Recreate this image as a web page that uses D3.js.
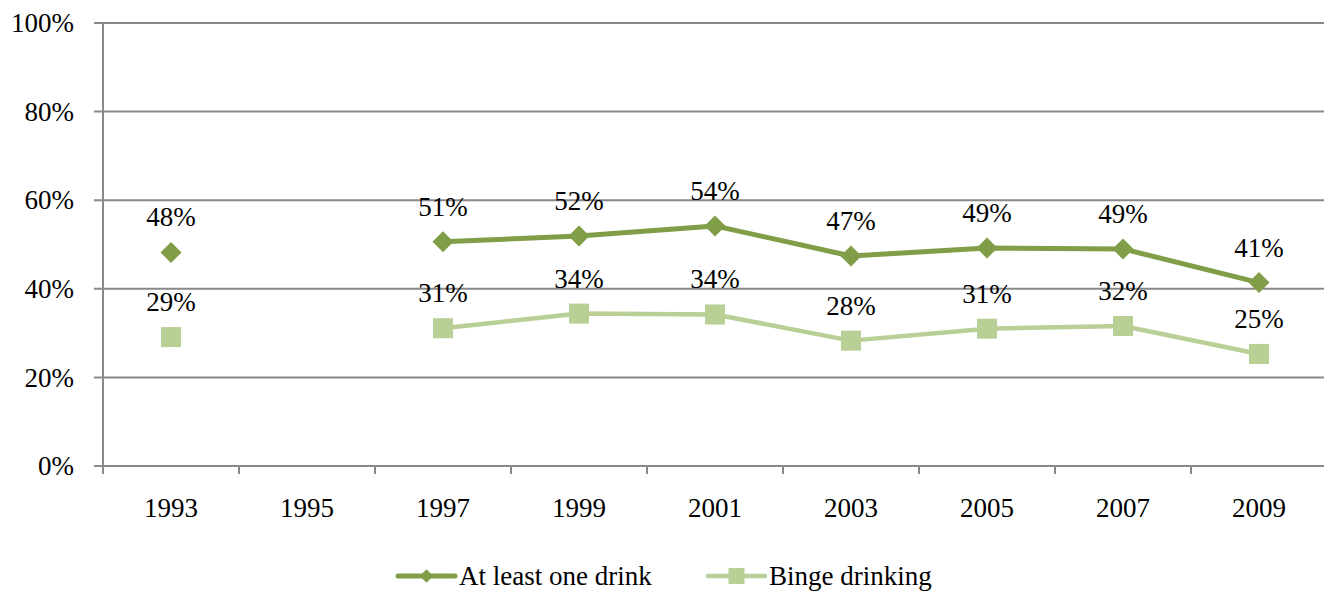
<!DOCTYPE html>
<html>
<head>
<meta charset="utf-8">
<script src="https://cdn.jsdelivr.net/npm/d3@7"></script>
<style>
  @font-face {
    font-family: "ChartSerif";
    src: local("Liberation Serif"), local("LiberationSerif"), local("LiberationSerif-Regular"),
         local("Tinos"), local("Tinos-Regular"), local("FreeSerif");
  }
  html, body { margin: 0; padding: 0; background: #fff; }
</style>
</head>
<body>
<svg id="chart" width="1324" height="594"></svg>
<script>
// Survey years and the share of students reporting each behaviour (percent)
const years = ["1993", "1995", "1997", "1999", "2001", "2003", "2005", "2007", "2009"];
const atLeastOneDrink = [48.2, null, 50.6, 51.9, 54.2, 47.4, 49.2, 49.0, 41.4];
const bingeDrinking = [29.1, null, 31.1, 34.4, 34.2, 28.3, 31.0, 31.6, 25.3];
const seriesNames = ["At least one drink", "Binge drinking"];
const yTicks = [0, 20, 40, 60, 80, 100];

const series = [
  { name: seriesNames[0], values: atLeastOneDrink, color: "#7f9e47", width: 5, marker: "diamond", legendX: 398 },
  { name: seriesNames[1], values: bingeDrinking, color: "#b8cf95", width: 4.5, marker: "square", legendX: 708 }
];

const svg = d3.select("#chart");
const plot = { left: 103, right: 1327, top: 23, bottom: 466 };
const fontSize = 27;
const fontStack = "'Liberation Serif', ChartSerif, Tinos, FreeSerif, serif";
const gridColor = "#898989";

const x = d3.scaleBand().domain(years).range([plot.left, plot.right]).padding(0);
const y = d3.scaleLinear().domain([0, 100]).range([plot.bottom, plot.top]);
const cx = yr => x(yr) + x.bandwidth() / 2;

// Labels sit directly on the svg root in the serif face
function addText(px, py, str, anchor, dy) {
  const t = svg.append("text")
    .attr("x", px).attr("y", py)
    .style("font-family", fontStack)
    .attr("font-size", fontSize)
    .text(str);
  if (anchor) t.attr("text-anchor", anchor);
  if (dy) t.attr("dy", dy);
  return t;
}

// Horizontal gridlines with short ticks left of the axis
svg.selectAll("line.grid")
  .data(yTicks)
  .join("line").attr("class", "grid")
  .attr("x1", plot.left - 9).attr("x2", 1324)
  .attr("y1", d => y(d)).attr("y2", d => y(d))
  .attr("stroke", gridColor).attr("stroke-width", 2);

// Vertical axis line
svg.append("line")
  .attr("x1", plot.left).attr("x2", plot.left)
  .attr("y1", plot.top).attr("y2", plot.bottom)
  .attr("stroke", gridColor).attr("stroke-width", 2);

// Category ticks on band boundaries
svg.selectAll("line.tk")
  .data(years.concat(["end"]))
  .join("line").attr("class", "tk")
  .attr("x1", (d, i) => plot.left + i * x.bandwidth())
  .attr("x2", (d, i) => plot.left + i * x.bandwidth())
  .attr("y1", plot.bottom).attr("y2", plot.bottom + 8)
  .attr("stroke", gridColor).attr("stroke-width", 2);

// Diamond or square point marker centred on (px, py)
function drawMarker(sel, kind, px, py, scale) {
  if (kind === "diamond") {
    const s = 10.5 * scale;
    sel.append("path")
      .attr("d", `M${px},${py - s}L${px + s},${py}L${px},${py + s}L${px - s},${py}Z`);
  } else {
    const s = 10 * scale;
    sel.append("rect")
      .attr("x", px - s).attr("y", py - s)
      .attr("width", 2 * s).attr("height", 2 * s);
  }
}

const line = d3.line()
  .defined(d => d.v != null)
  .x(d => cx(d.year))
  .y(d => y(d.v));

series.forEach(s => {
  const pts = years.map((yr, i) => ({ year: yr, v: s.values[i] }));
  const g = svg.append("g");
  g.append("path")
    .datum(pts)
    .attr("d", line)
    .attr("fill", "none")
    .attr("stroke", s.color)
    .attr("stroke-width", s.width)
    .attr("stroke-linejoin", "round");
  const mg = g.append("g").attr("fill", s.color);
  pts.filter(d => d.v != null).forEach(d => drawMarker(mg, s.marker, cx(d.year), y(d.v), 1));
});

// Legend swatches
series.forEach(s => {
  const lx = s.legendX;
  const item = svg.append("g").attr("transform", "translate(0,576)");
  item.append("line")
    .attr("x1", lx).attr("x2", lx + 57)
    .attr("stroke", s.color).attr("stroke-width", s.width)
    .attr("stroke-linecap", "round");
  const mg = item.append("g").attr("fill", s.color);
  drawMarker(mg, s.marker, lx + 28.5, 0, s.marker === "diamond" ? 0.65 : 0.8);
});

// Text: y tick labels, year labels, value labels, legend names
yTicks.forEach(v => addText(plot.left - 29, y(v), v + "%", "end", "0.34em"));
years.forEach(yr => addText(cx(yr), plot.bottom + 51, yr, "middle"));
series.forEach(s => {
  years.forEach((yr, i) => {
    const v = s.values[i];
    if (v != null) addText(cx(yr), y(v) - 26, Math.round(v) + "%", "middle");
  });
});
series.forEach(s => addText(s.legendX + 61, 576, s.name, null, "0.34em"));
</script>
</body>
</html>
